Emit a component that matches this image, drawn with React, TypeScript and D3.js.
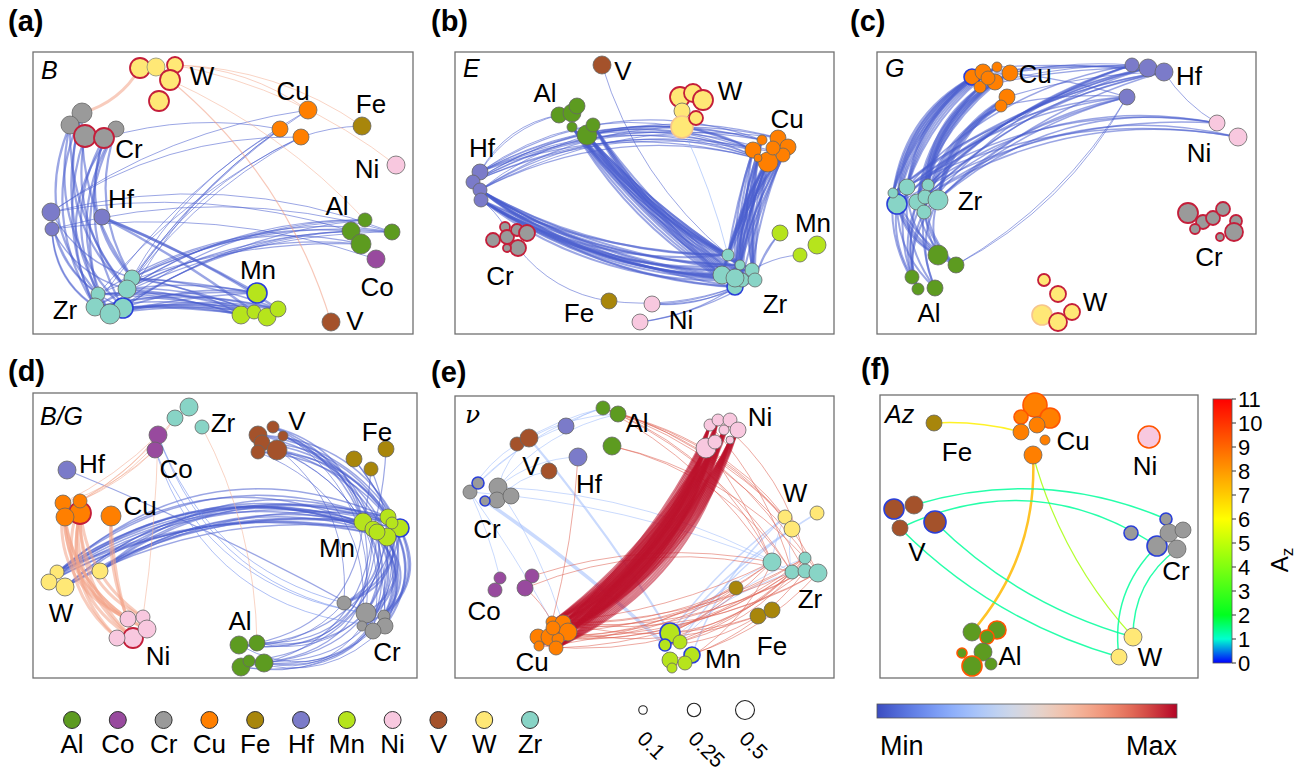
import React from 'react';
import * as d3 from 'd3';

// ---------- element palette ----------
const ELEMENTS = ['Al', 'Co', 'Cr', 'Cu', 'Fe', 'Hf', 'Mn', 'Ni', 'V', 'W', 'Zr'];
const ELEMENT_COLORS = ['#5d9b20', '#984a9e', '#9a9a9a', '#ff7f00', '#a8860b', '#7b7bc9', '#b6e41c', '#f8c8df', '#a4522b', '#ffe876', '#88d4c6'];

// colormaps
const COOLWARM_STOPS = ['#3b4cc0', '#6282ea', '#8db0fe', '#b8d0f9', '#dddcdc', '#f5c4ac', '#f49a7b', '#de604d', '#b40426'];
const AZ_STOPS = [0, 1, 2, 6, 11];
const AZ_COLORS = ['#0000ff', '#00ffd0', '#00ff20', '#ffff00', '#ff0000'];
const AZ_TICKS = [0, 1, 2, 3, 4, 5, 6, 7, 8, 9, 10, 11];
const SIZE_VALUES = [0.1, 0.25, 0.5];
const SIZE_LABELS = ['0.1', '0.25', '0.5'];

type NodeRow = [string, number, number, number, string];
// [source, target, count, value, width, curvature, spread, srcIdx?, tgtIdx?]
type EdgeRow = [string, string, number, number, number, number, number, (number[] | null)?, (number[] | null)?];
type LabelRow = [string, number, number];

// ---------- panel (a) B ----------
const nodesA: NodeRow[] = [
  ['W', 107, 16, 10, 'r'], ['W', 123, 15, 9, 'g'], ['W', 142, 13, 8, 'r'], ['W', 137, 28, 10, 'r'], ['W', 126, 49, 10, 'r'],
  ['Cr', 49, 61, 10, 'n'], ['Cr', 37, 73, 9, 'n'], ['Cr', 83, 77, 8, 'n'], ['Cr', 52, 84, 11, 'r'], ['Cr', 71, 86, 10, 'r'],
  ['Cu', 275, 58, 9, 'n'], ['Cu', 247, 77, 8, 'n'], ['Cu', 268, 85, 8, 'n'],
  ['Fe', 329, 74, 9, 'n'],
  ['Ni', 363, 113, 9, 'n'],
  ['Hf', 18, 160, 9, 'n'], ['Hf', 19, 177, 7, 'n'], ['Hf', 69, 165, 8, 'n'],
  ['Al', 332, 168, 7, 'n'], ['Al', 318, 179, 9, 'n'], ['Al', 328, 192, 10, 'n'], ['Al', 359, 180, 8, 'n'],
  ['Co', 343, 207, 9, 'n'],
  ['Mn', 224, 241, 10, 'b'], ['Mn', 208, 263, 9, 'n'], ['Mn', 221, 260, 7, 'n'], ['Mn', 234, 265, 9, 'n'], ['Mn', 245, 257, 8, 'n'],
  ['Zr', 99, 226, 8, 'n'], ['Zr', 94, 237, 9, 'n'], ['Zr', 65, 242, 7, 'n'], ['Zr', 62, 255, 9, 'n'], ['Zr', 90, 256, 10, 'b'], ['Zr', 77, 262, 10, 'n'],
  ['V', 298, 270, 9, 'n'],
];
const edgesA: EdgeRow[] = [
  ['Zr', 'Cr', 16, 0.04, 2.2, 0.25, 0.15],
  ['Zr', 'Hf', 6, 0.04, 1.5, 0.25, 0.1, null, [0, 1]],
  ['Zr', 'Mn', 24, 0.04, 1.6, 0.08, 0.1],
  ['Zr', 'Al', 14, 0.04, 1.2, 0.15, 0.1],
  ['Zr', 'Cu', 8, 0.04, 1, 0.12, 0.06],
  ['Hf', 'Mn', 3, 0.04, 2.5, 0.04, 0.02, [2], null],
  ['Hf', 'Al', 3, 0.04, 1, 0.14, 0.04, [0, 1], [1, 3]],
  ['Hf', 'Co', 1, 0.04, 1, 0.12, 0, [1], null],
  ['Hf', 'Cu', 2, 0.04, 1, 0.14, 0.04, [0], null],
  ['Cr', 'Cu', 1, 0.04, 1, 0.12, 0, [4], [1]],
  ['Cu', 'Fe', 1, 0.04, 1, 0.08, 0, [2], null],
  ['W', 'Cr', 1, 0.72, 3, 0.2, 0, [0], [0]],
  ['W', 'Cu', 1, 0.7, 1, 0.15, 0, [2], [0]],
  ['W', 'Fe', 1, 0.68, 1, 0.15, 0, [2], null],
  ['W', 'Ni', 1, 0.68, 1, 0.12, 0, [2], null],
  ['W', 'V', 1, 0.74, 1.2, 0.15, 0, [3], null],
  ['W', 'Al', 1, 0.68, 1, 0.1, 0, [3], [0]],
];
const labelsA: LabelRow[] = [
  ['W', 169, 24], ['Cu', 260, 39], ['Fe', 338, 52], ['Ni', 334, 117], ['Cr', 96, 97], ['Hf', 88, 147],
  ['Al', 304, 154], ['Co', 344, 235], ['Mn', 225, 218], ['Zr', 32, 258], ['V', 322, 269],
];

// ---------- panel (b) E ----------
const nodesB: NodeRow[] = [
  ['V', 147, 13, 9, 'n'],
  ['Al', 104, 63, 8, 'n'], ['Al', 117, 61, 9, 'n'], ['Al', 122, 54, 8, 'n'], ['Al', 117, 75, 5, 'n'], ['Al', 132, 83, 10, 'n'], ['Al', 138, 73, 7, 'n'],
  ['W', 225, 45, 10, 'r'], ['W', 238, 41, 9, 'r'], ['W', 248, 48, 10, 'r'], ['W', 227, 59, 8, 'n'], ['W', 227, 75, 11, 'l'], ['W', 241, 66, 7, 'r'],
  ['Cu', 307, 88, 5, 'n'], ['Cu', 298, 98, 8, 'n'], ['Cu', 323, 86, 8, 'n'], ['Cu', 333, 95, 8, 'n'], ['Cu', 313, 110, 10, 'n'], ['Cu', 328, 103, 7, 'n'], ['Cu', 303, 106, 4, 'n'], ['Cu', 318, 96, 7, 'n'],
  ['Hf', 25, 120, 8, 'n'], ['Hf', 18, 130, 7, 'n'], ['Hf', 25, 138, 7, 'n'], ['Hf', 26, 148, 7, 'n'],
  ['Cr', 50, 175, 5, 'r'], ['Cr', 38, 188, 7, 'r'], ['Cr', 52, 185, 7, 'r'], ['Cr', 62, 178, 6, 'r'], ['Cr', 72, 181, 8, 'r'], ['Cr', 63, 196, 8, 'r'], ['Cr', 52, 196, 4, 'r'],
  ['Mn', 325, 181, 8, 'n'], ['Mn', 345, 203, 7, 'n'], ['Mn', 362, 193, 9, 'n'],
  ['Zr', 280, 235, 8, 'b'], ['Zr', 273, 203, 6, 'n'], ['Zr', 267, 223, 9, 'n'], ['Zr', 285, 213, 5, 'n'], ['Zr', 297, 218, 7, 'n'], ['Zr', 287, 228, 7, 'n'], ['Zr', 300, 228, 7, 'n'], ['Zr', 280, 226, 9, 'n'],
  ['Fe', 154, 249, 8, 'n'],
  ['Ni', 197, 252, 8, 'n'], ['Ni', 185, 270, 8, 'n'],
];
const edgesB: EdgeRow[] = [
  ['Zr', 'Hf', 22, 0.04, 2, 0.14, 0.08, null, [2, 3]],
  ['Zr', 'Al', 26, 0.04, 2, 0.1, 0.08, null, [3, 4, 5]],
  ['Zr', 'Cu', 34, 0.04, 2, 0.08, 0.08],
  ['Hf', 'Cu', 14, 0.04, 1.2, 0.2, 0.1, [0, 1, 2], null],
  ['Hf', 'W', 4, 0.04, 1, 0.18, 0.06, [0, 1, 2], [4]],
  ['Al', 'Cu', 4, 0.04, 1.2, 0.14, 0.06, [4], null],
  ['W', 'Cu', 3, 0.04, 1.6, 0.08, 0.04, [4], [1, 4]],
  ['Hf', 'Al', 2, 0.04, 1, 0.22, 0.04, [0], [0, 1]],
  ['Hf', 'Cr', 1, 0.04, 1, 0.1, 0, [3], [0]],
  ['Zr', 'V', 1, 0.04, 1, 0.15, 0, [1], null],
  ['W', 'Zr', 1, 0.25, 1, 0.05, 0, [4], [1]],
  ['Fe', 'Cr', 1, 0.04, 1, 0.2, 0, null, [5]],
  ['Zr', 'Ni', 5, 0.04, 1.2, 0.12, 0.06, [0, 6], null],
  ['Zr', 'Fe', 1, 0.04, 1, 0.12, 0, [0], null],
  ['Zr', 'Mn', 3, 0.04, 1.2, 0.12, 0.04, [6, 4], null],
];
const labelsB: LabelRow[] = [
  ['V', 168, 19], ['Al', 90, 41], ['W', 275, 39], ['Cu', 332, 67], ['Hf', 27, 96], ['Cr', 45, 224],
  ['Mn', 358, 171], ['Zr', 320, 252], ['Fe', 124, 261], ['Ni', 226, 268],
];

// ---------- panel (c) G ----------
const nodesC: NodeRow[] = [
  ['Cu', 95, 25, 8, 'b'], ['Cu', 106, 20, 8, 'n'], ['Cu', 120, 15, 5, 'n'], ['Cu', 133, 21, 8, 'n'], ['Cu', 118, 30, 8, 'n'], ['Cu', 103, 35, 6, 'n'], ['Cu', 130, 45, 8, 'n'], ['Cu', 124, 54, 6, 'n'], ['Cu', 111, 26, 7, 'n'],
  ['Hf', 255, 13, 7, 'n'], ['Hf', 271, 16, 9, 'n'], ['Hf', 287, 20, 9, 'n'], ['Hf', 250, 45, 8, 'n'],
  ['Ni', 340, 71, 8, 'n'], ['Ni', 361, 85, 9, 'n'],
  ['Zr', 20, 152, 10, 'b'], ['Zr', 16, 141, 5, 'n'], ['Zr', 30, 135, 8, 'n'], ['Zr', 40, 150, 8, 'n'], ['Zr', 51, 133, 6, 'n'], ['Zr', 48, 145, 7, 'n'], ['Zr', 61, 148, 10, 'n'], ['Zr', 47, 160, 7, 'n'],
  ['Al', 61, 203, 10, 'n'], ['Al', 79, 213, 8, 'n'], ['Al', 35, 225, 7, 'n'], ['Al', 41, 237, 6, 'n'], ['Al', 58, 236, 8, 'n'],
  ['Cr', 311, 161, 10, 'r'], ['Cr', 326, 170, 7, 'r'], ['Cr', 336, 166, 7, 'r'], ['Cr', 346, 157, 7, 'r'], ['Cr', 318, 177, 5, 'r'], ['Cr', 359, 169, 6, 'r'], ['Cr', 357, 180, 9, 'r'], ['Cr', 343, 185, 4, 'r'],
  ['W', 167, 228, 6, 'r'], ['W', 181, 242, 8, 'r'], ['W', 165, 263, 10, 'l'], ['W', 181, 270, 9, 'r'], ['W', 195, 260, 8, 'r'],
];
const edgesC: EdgeRow[] = [
  ['Zr', 'Cu', 36, 0.04, 2, 0.22, 0.12],
  ['Zr', 'Hf', 20, 0.04, 1.5, 0.14, 0.08],
  ['Zr', 'Ni', 7, 0.04, 1.5, 0.2, 0.08],
  ['Cu', 'Hf', 10, 0.04, 1.2, 0.06, 0.06],
  ['Al', 'Zr', 22, 0.04, 2, 0.2, 0.12],
  ['Hf', 'Al', 2, 0.04, 1, 0.14, 0.02, [3], [1, 4]],
  ['Ni', 'Hf', 1, 0.04, 1, 0.12, 0, [0], [2]],
];
const labelsC: LabelRow[] = [
  ['Cu', 158, 22], ['Hf', 312, 24], ['Ni', 322, 101], ['Zr', 93, 149], ['Al', 52, 261], ['Cr', 332, 205], ['W', 218, 250],
];

// ---------- panel (d) B/G ----------
const nodesD: NodeRow[] = [
  ['Zr', 142, 25, 8, 'n'], ['Zr', 156, 14, 9, 'n'], ['Zr', 169, 34, 7, 'n'],
  ['Co', 125, 42, 9, 'n'], ['Co', 122, 57, 8, 'n'],
  ['V', 225, 42, 9, 'n'], ['V', 240, 34, 6, 'n'], ['V', 250, 43, 5, 'n'], ['V', 229, 50, 8, 'n'], ['V', 225, 59, 7, 'n'], ['V', 244, 57, 10, 'n'],
  ['Fe', 321, 66, 8, 'n'], ['Fe', 338, 76, 7, 'n'], ['Fe', 353, 56, 8, 'n'],
  ['Hf', 34, 77, 9, 'n'],
  ['Cu', 47, 120, 11, 'r'], ['Cu', 30, 110, 8, 'n'], ['Cu', 47, 108, 7, 'n'], ['Cu', 32, 124, 9, 'n'], ['Cu', 78, 123, 10, 'n'],
  ['Mn', 367, 135, 9, 'b'], ['Mn', 330, 129, 9, 'n'], ['Mn', 340, 136, 8, 'n'], ['Mn', 355, 124, 8, 'n'], ['Mn', 359, 130, 6, 'n'], ['Mn', 354, 144, 9, 'n'], ['Mn', 344, 139, 8, 'n'],
  ['W', 24, 179, 7, 'n'], ['W', 16, 189, 8, 'n'], ['W', 32, 194, 9, 'n'], ['W', 67, 178, 8, 'n'],
  ['Ni', 100, 245, 10, 'r'], ['Ni', 95, 226, 8, 'n'], ['Ni', 110, 224, 7, 'n'], ['Ni', 114, 236, 9, 'n'], ['Ni', 84, 245, 8, 'n'],
  ['Al', 206, 252, 9, 'n'], ['Al', 224, 250, 8, 'n'], ['Al', 208, 274, 9, 'n'], ['Al', 216, 268, 6, 'n'], ['Al', 231, 270, 9, 'n'],
  ['Cr', 311, 210, 7, 'n'], ['Cr', 333, 220, 10, 'n'], ['Cr', 351, 223, 6, 'n'], ['Cr', 352, 233, 8, 'n'], ['Cr', 329, 233, 5, 'n'], ['Cr', 340, 238, 8, 'n'],
];
const edgesD: EdgeRow[] = [
  ['W', 'Mn', 26, 0.04, 1.5, 0.24, 0.18],
  ['Mn', 'Cr', 16, 0.04, 2, 0.4, 0.2],
  ['Mn', 'Al', 14, 0.04, 1.2, 0.5, 0.3],
  ['V', 'Mn', 14, 0.04, 1.5, 0.25, 0.12],
  ['Fe', 'Mn', 5, 0.04, 1.2, 0.06, 0.06],
  ['V', 'Cr', 6, 0.04, 1, 0.35, 0.1],
  ['Hf', 'Cr', 1, 0.04, 1.2, 0.03, 0, null, [1]],
  ['Cr', 'Co', 4, 0.15, 1, 0.3, 0.08],
  ['Cr', 'Al', 6, 0.04, 1, 0.3, 0.1],
  ['Ni', 'Cu', 12, 0.72, 3, 0.3, 0.15, null, [0, 1, 2, 3]],
  ['Ni', 'Cu', 2, 0.72, 3, 0.1, 0.04, null, [4]],
  ['Co', 'Cu', 4, 0.7, 1, 0.1, 0.04, null, [1, 2]],
  ['Zr', 'Cu', 2, 0.7, 1, 0.12, 0.04, [0], [2, 4]],
  ['Co', 'Ni', 1, 0.68, 1, 0.03, 0, [0], [2]],
  ['Zr', 'Al', 1, 0.68, 1, 0.12, 0, [2], [1]],
];
const labelsD: LabelRow[] = [
  ['Zr', 190, 30], ['Co', 143, 76], ['V', 264, 28], ['Fe', 344, 39], ['Hf', 59, 71], ['Cu', 107, 113],
  ['Mn', 304, 155], ['W', 28, 220], ['Ni', 125, 263], ['Al', 207, 228], ['Cr', 354, 259],
];

// ---------- panel (e) nu ----------
const nodesE: NodeRow[] = [
  ['Al', 148, 12, 7, 'n'], ['Al', 163, 18, 8, 'n'], ['Al', 157, 50, 9, 'n'],
  ['Hf', 111, 30, 8, 'n'], ['Hf', 123, 61, 9, 'n'],
  ['V', 62, 48, 7, 'n'], ['V', 74, 42, 9, 'n'], ['V', 94, 75, 8, 'n'],
  ['Cr', 15, 96, 7, 'n'], ['Cr', 43, 91, 9, 'n'], ['Cr', 42, 104, 8, 'n'], ['Cr', 56, 100, 8, 'n'], ['Cr', 23, 87, 6, 'b'], ['Cr', 30, 105, 5, 'b'],
  ['Ni', 251, 52, 10, 'n'], ['Ni', 255, 29, 6, 'n'], ['Ni', 263, 24, 6, 'n'], ['Ni', 275, 24, 7, 'n'], ['Ni', 283, 34, 8, 'n'], ['Ni', 269, 34, 5, 'n'], ['Ni', 260, 46, 7, 'n'], ['Ni', 275, 44, 4, 'n'],
  ['W', 330, 121, 7, 'n'], ['W', 337, 133, 8, 'n'], ['W', 362, 117, 7, 'n'],
  ['Zr', 317, 166, 9, 'n'], ['Zr', 337, 176, 7, 'n'], ['Zr', 350, 162, 6, 'n'], ['Zr', 350, 175, 7, 'n'], ['Zr', 363, 177, 9, 'n'],
  ['Co', 45, 182, 6, 'n'], ['Co', 40, 194, 7, 'n'], ['Co', 77, 180, 7, 'n'], ['Co', 70, 192, 8, 'n'],
  ['Fe', 281, 192, 7, 'n'], ['Fe', 303, 220, 8, 'n'], ['Fe', 317, 214, 8, 'n'],
  ['Cu', 97, 226, 6, 'n'], ['Cu', 108, 227, 8, 'n'], ['Cu', 113, 236, 9, 'n'], ['Cu', 83, 241, 8, 'n'], ['Cu', 95, 241, 9, 'n'], ['Cu', 103, 243, 6, 'n'], ['Cu', 84, 250, 5, 'n'], ['Cu', 101, 252, 7, 'n'], ['Cu', 98, 232, 7, 'n'],
  ['Mn', 215, 237, 10, 'b'], ['Mn', 210, 249, 6, 'b'], ['Mn', 225, 246, 7, 'n'], ['Mn', 237, 259, 8, 'b'], ['Mn', 215, 264, 8, 'n'], ['Mn', 230, 267, 7, 'n'], ['Mn', 217, 272, 5, 'n'],
];
const edgesE: EdgeRow[] = [
  ['Cr', 'V', 3, 0.3, 1, 0.15, 0.05],
  ['Cr', 'Hf', 2, 0.3, 1, 0.15, 0.04],
  ['Cr', 'Al', 2, 0.3, 1, 0.15, 0.04],
  ['V', 'Al', 2, 0.3, 1, 0.1, 0.04],
  ['Hf', 'Al', 1, 0.3, 1, 0.1, 0],
  ['Cr', 'Zr', 2, 0.3, 1, 0.1, 0.04],
  ['Cr', 'Co', 1, 0.3, 1, 0.05, 0],
  ['Cr', 'Cu', 2, 0.3, 1, 0.05, 0.04],
  ['Mn', 'W', 4, 0.3, 1.5, 0.1, 0.06],
  ['Zr', 'W', 2, 0.3, 1, 0.1, 0.04],
  ['Mn', 'Zr', 3, 0.3, 1, 0.1, 0.04],
  ['Cr', 'Mn', 1, 0.3, 3.5, 0.04, 0, [5], [1]],
  ['V', 'Mn', 1, 0.3, 2.2, 0.04, 0, [1], [0]],
  ['Zr', 'Cu', 14, 0.86, 1, 0.15, 0.1],
  ['Fe', 'Cu', 4, 0.86, 1, 0.15, 0.04],
  ['Zr', 'Mn', 8, 0.86, 1, 0.15, 0.1],
  ['Fe', 'Mn', 2, 0.86, 1, 0.12, 0.04],
  ['Al', 'Zr', 8, 0.86, 1, 0.18, 0.1],
  ['Al', 'W', 2, 0.86, 1, 0.15, 0.04],
  ['Ni', 'Zr', 3, 0.86, 1, 0.12, 0.1],
  ['Ni', 'W', 1, 0.86, 1, 0.1, 0],
  ['Co', 'Zr', 2, 0.86, 1, 0.15, 0.04, [2, 3]],
  ['Co', 'Cu', 1, 0.86, 1, 0.1, 0, [3]],
  ['Hf', 'Cu', 1, 0.86, 1, 0.05, 0, [1]],
  ['Ni', 'Cu', 72, 0.98, 2, 0.17, 0.14],
];
const labelsE: LabelRow[] = [
  ['Al', 182, 27], ['Hf', 134, 88], ['V', 76, 70], ['Cr', 32, 133], ['Ni', 305, 21], ['W', 340, 97],
  ['Zr', 355, 203], ['Co', 29, 215], ['Fe', 317, 250], ['Cu', 77, 266], ['Mn', 268, 263],
];

// ---------- panel (f) Az ----------
const nodesF: NodeRow[] = [
  ['Fe', 54, 28, 8, 'n'],
  ['Cu', 155, 10, 12, 'o'], ['Cu', 141, 22, 7, 'o'], ['Cu', 170, 23, 10, 'o'], ['Cu', 157, 30, 8, 'n'], ['Cu', 141, 37, 8, 'n'], ['Cu', 165, 45, 5, 'n'], ['Cu', 153, 60, 9, 'n'],
  ['Ni', 269, 42, 11, 'o'],
  ['V', 14, 114, 10, 'b'], ['V', 34, 110, 9, 'n'], ['V', 20, 133, 8, 'n'], ['V', 55, 127, 11, 'b'],
  ['Cr', 286, 124, 6, 'b'], ['Cr', 251, 138, 7, 'b'], ['Cr', 277, 151, 10, 'b'], ['Cr', 289, 138, 9, 'n'], ['Cr', 303, 135, 8, 'n'], ['Cr', 297, 154, 9, 'n'],
  ['Al', 92, 237, 9, 'n'], ['Al', 117, 235, 9, 'o'], ['Al', 107, 242, 7, 'o'], ['Al', 103, 257, 9, 'n'], ['Al', 82, 258, 5, 'o'], ['Al', 92, 271, 10, 'o'], ['Al', 111, 269, 6, 'n'],
  ['W', 253, 242, 9, 'n'], ['W', 239, 262, 8, 'n'],
];
const edgesF: EdgeRow[] = [
  ['Fe', 'Cu', 1, 6.3, 1.5, 0.08, 0, [0], [4]],
  ['Cu', 'Al', 1, 7.4, 2.5, 0.2, 0, [6], [0]],
  ['W', 'Cu', 1, 4.6, 1.2, 0.12, 0, [0], [6]],
  ['V', 'Cr', 1, 1.3, 1.5, 0.18, 0, [1], [0]],
  ['V', 'Cr', 1, 1.3, 1.5, 0.28, 0, [2], [2]],
  ['W', 'V', 1, 1.3, 1.5, 0.13, 0, [0], [3]],
  ['W', 'V', 1, 1.3, 1.5, 0.13, 0, [1], [2]],
  ['W', 'Cr', 1, 1.3, 1.5, 0.25, 0, [1], [2]],
  ['W', 'Cr', 1, 1.3, 1.5, 0.25, 0, [0], [5]],
];
const labelsF: LabelRow[] = [
  ['Fe', 77, 57], ['Cu', 193, 46], ['Ni', 265, 71], ['V', 37, 157], ['Cr', 296, 176], ['Al', 130, 261], ['W', 270, 262],
];

// ---------- layout (positions only) ----------
const PANELS = [
  { id: 'a', tag: '(a)', tx: 8, ty: 31, x: 33, y: 52, w: 380, h: 282, nodes: nodesA, edges: edgesA, labels: labelsA, title: 'B', titleX: 8, titleY: 27, cmap: 'cw' },
  { id: 'b', tag: '(b)', tx: 431, ty: 31, x: 455, y: 52, w: 379, h: 282, nodes: nodesB, edges: edgesB, labels: labelsB, title: 'E', titleX: 8, titleY: 25, cmap: 'cw' },
  { id: 'c', tag: '(c)', tx: 850, ty: 31, x: 877, y: 52, w: 379, h: 282, nodes: nodesC, edges: edgesC, labels: labelsC, title: 'G', titleX: 8, titleY: 25, cmap: 'cw' },
  { id: 'd', tag: '(d)', tx: 8, ty: 381, x: 33, y: 393, w: 384, h: 285, nodes: nodesD, edges: edgesD, labels: labelsD, title: 'B/G', titleX: 7, titleY: 32, cmap: 'cw' },
  { id: 'e', tag: '(e)', tx: 431, ty: 382, x: 455, y: 396, w: 379, h: 282, nodes: nodesE, edges: edgesE, labels: labelsE, title: 'ν', titleX: 10, titleY: 27, cmap: 'cw' },
  { id: 'f', tag: '(f)', tx: 861, ty: 379, x: 880, y: 395, w: 318, h: 283, nodes: nodesF, edges: edgesF, labels: labelsF, title: 'Az', titleX: 5, titleY: 28, cmap: 'az' },
];

const STROKES: Record<string, [string, number]> = {
  n: ['#666666', 0.8],
  g: ['#9a9a7a', 0.9],
  r: ['#c41e3a', 1.8],
  b: ['#2a3fd8', 1.6],
  o: ['#ff5500', 1.6],
  l: ['#f7c58c', 1.6],
};

const FONT = "'Liberation Sans', Arial, Helvetica, sans-serif";

const coolwarm = d3.interpolateRgbBasis(COOLWARM_STOPS);
const azScale = d3.scaleLinear<string>().domain(AZ_STOPS).range(AZ_COLORS).interpolate(d3.interpolateRgb).clamp(true);
const colorOf = d3.scaleOrdinal<string, string>().domain(ELEMENTS).range(ELEMENT_COLORS);

function buildEdges(nodes: NodeRow[], edges: EdgeRow[]) {
  const byEl = d3.group(nodes, (d) => d[0]);
  const out: { a: NodeRow; b: NodeRow; c: number; value: number; width: number }[] = [];
  edges.forEach(([s, t, count, value, width, curv, spread, si, ti]) => {
    const S = byEl.get(s) || [];
    const T = byEl.get(t) || [];
    if (!S.length || !T.length) return;
    const sIdx = si || S.map((_, i) => i);
    const tIdx = ti || T.map((_, i) => i);
    for (let k = 0; k < count; k++) {
      const a = S[sIdx[k % sIdx.length]];
      const b = T[tIdx[(k + Math.floor(k / sIdx.length)) % tIdx.length]];
      const c = curv + (count > 1 ? spread * (k / (count - 1) - 0.5) : 0);
      out.push({ a, b, c, value, width });
    }
  });
  return out;
}

function Panel({ p }: { p: (typeof PANELS)[number] }) {
  const xs = d3.scaleLinear().domain([0, p.w]).range([p.x, p.x + p.w]);
  const ys = d3.scaleLinear().domain([0, p.h]).range([p.y, p.y + p.h]);
  const edges = buildEdges(p.nodes, p.edges);
  const colorFn = (v: number) => (p.cmap === 'az' ? azScale(v) : coolwarm(v));
  const opacity = p.cmap === 'az' ? 0.85 : 0.55;
  return (
    <g>
      <text x={p.tx} y={p.ty} fontSize={29} fontWeight="bold" fill="#000">{p.tag}</text>
      <rect x={p.x} y={p.y} width={p.w} height={p.h} fill="#fff" stroke="#707070" strokeWidth={1.3} />
      <g fill="none" strokeLinecap="round">
        {edges.map((e, i) => {
          const x0 = xs(e.a[1]), y0 = ys(e.a[2]), x1 = xs(e.b[1]), y1 = ys(e.b[2]);
          const dx = x1 - x0, dy = y1 - y0;
          const cx = (x0 + x1) / 2 + e.c * dy;
          const cy = (y0 + y1) / 2 - e.c * dx;
          const path = d3.path();
          path.moveTo(x0, y0);
          path.quadraticCurveTo(cx, cy, x1, y1);
          return <path key={i} d={path.toString()} stroke={colorFn(e.value)} strokeWidth={e.width} strokeOpacity={opacity} />;
        })}
      </g>
      <g>
        {p.nodes.map((n, i) => {
          const [sc, sw] = STROKES[n[4]] || STROKES.n;
          return <circle key={i} cx={xs(n[1])} cy={ys(n[2])} r={n[3]} fill={colorOf(n[0])} stroke={sc} strokeWidth={sw} />;
        })}
      </g>
      <g fontSize={26} fill="#000" textAnchor="middle">
        {p.labels.map((l, i) => (
          <text key={i} x={xs(l[1])} y={ys(l[2])} dominantBaseline="central">{l[0]}</text>
        ))}
      </g>
      <text x={xs(p.titleX)} y={ys(p.titleY)} fontSize={25} fontStyle="italic" fill="#000"
        fontFamily={p.title === 'ν' ? "'DejaVu Serif', 'Liberation Serif', serif" : FONT}>{p.title}</text>
    </g>
  );
}

export default function App() {
  const legendX = d3.scalePoint<string>().domain(ELEMENTS).range([72, 530]);
  const sizeX = d3.scalePoint<string>().domain(SIZE_LABELS).range([643, 745]);
  const sizeR = d3.scaleSqrt().domain([0, 0.5]).range([0, 9.5]);
  const azY = d3.scaleLinear().domain([0, 11]).range([663, 399]);
  const gradStops = d3.range(0, 11.01, 0.25);
  const cwStops = d3.range(0, 1.001, 0.05);

  return (
    <svg width={1296} height={777} style={{ position: 'absolute', left: 0, top: 0, background: '#fff' }} fontFamily={FONT}>
      <defs>
        <linearGradient id="azGrad" x1="0" y1="1" x2="0" y2="0">
          {gradStops.map((v) => (
            <stop key={v} offset={`${(v / 11) * 100}%`} stopColor={azScale(v)} />
          ))}
        </linearGradient>
        <linearGradient id="cwGrad" x1="0" y1="0" x2="1" y2="0">
          {cwStops.map((v) => (
            <stop key={v} offset={`${v * 100}%`} stopColor={coolwarm(v)} />
          ))}
        </linearGradient>
      </defs>
      <rect x={0} y={0} width={1296} height={777} fill="#fff" />
      {PANELS.map((p) => (
        <Panel key={p.id} p={p} />
      ))}

      {/* element legend */}
      <g>
        {ELEMENTS.map((el) => (
          <g key={el}>
            <circle cx={legendX(el)} cy={720} r={8.5} fill={colorOf(el)} stroke="#333" strokeWidth={1} />
            <text x={legendX(el)} y={753} fontSize={26} textAnchor="middle" fill="#000">{el}</text>
          </g>
        ))}
      </g>

      {/* size legend */}
      <g>
        {SIZE_VALUES.map((v, i) => {
          const cx = sizeX(SIZE_LABELS[i]) as number;
          const tx = cx - 7;
          const ty = 740;
          return (
            <g key={i}>
              <circle cx={cx} cy={710} r={sizeR(v)} fill="#fff" stroke="#222" strokeWidth={1.1} />
              <text x={tx} y={ty} fontSize={21} fill="#000" transform={`rotate(45 ${tx} ${ty})`}>{SIZE_LABELS[i]}</text>
            </g>
          );
        })}
      </g>

      {/* Min-Max colorbar */}
      <rect x={877} y={704} width={300} height={14} fill="url(#cwGrad)" stroke="#555" strokeWidth={0.8} />
      <text x={880} y={755} fontSize={27} textAnchor="start" fill="#000">Min</text>
      <text x={1177} y={755} fontSize={27} textAnchor="end" fill="#000">Max</text>

      {/* Az colorbar */}
      <rect x={1213} y={399} width={19} height={264} fill="url(#azGrad)" stroke="#555" strokeWidth={0.8} />
      <g fontSize={22} fill="#000">
        {AZ_TICKS.map((t) => (
          <g key={t}>
            <line x1={1232} x2={1236} y1={azY(t)} y2={azY(t)} stroke="#333" strokeWidth={1} />
            <text x={1238} y={azY(t)} dominantBaseline="central">{t}</text>
          </g>
        ))}
      </g>
      <text transform="translate(1288 560) rotate(-90)" fontSize={24} textAnchor="middle" fill="#000">
        A<tspan fontSize={17} dy={5}>z</tspan>
      </text>
    </svg>
  );
}
